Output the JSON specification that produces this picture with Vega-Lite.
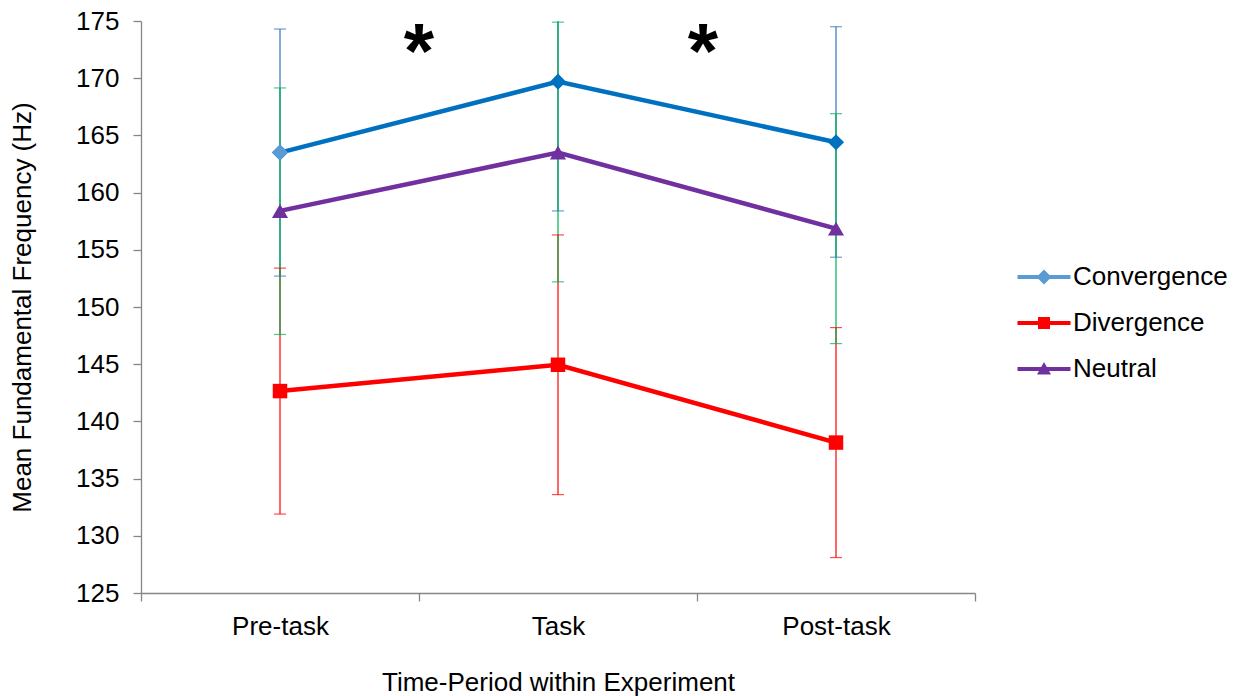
{
  "$schema": "https://vega.github.io/schema/vega-lite/v6.json",
  "autosize": "none",
  "width": 834,
  "height": 572,
  "padding": {"left": 141, "top": 21, "right": 263, "bottom": 103},
  "background": "white",
  "config": {
    "view": {"stroke": null},
    "font": "Liberation Sans",
    "axis": {
      "domainColor": "#868686",
      "tickColor": "#868686",
      "domainWidth": 1.3,
      "tickWidth": 1.3,
      "tickSize": 8,
      "grid": false,
      "labelFont": "Liberation Sans",
      "labelFontSize": 26,
      "labelColor": "#000000",
      "titleFont": "Liberation Sans",
      "titleFontSize": 26,
      "titleFontWeight": "normal",
      "titleColor": "#000000"
    },
    "legend": {
      "labelFont": "Liberation Sans",
      "labelFontSize": 26,
      "labelColor": "#000000"
    }
  },
  "data": {
    "values": [
      {"period": "Pre-task", "series": "Convergence", "mean": 163.5, "lo": 152.7, "hi": 174.3},
      {"period": "Task", "series": "Convergence", "mean": 169.7, "lo": 158.4, "hi": 181.0},
      {"period": "Post-task", "series": "Convergence", "mean": 164.4, "lo": 154.35, "hi": 174.5},
      {"period": "Pre-task", "series": "Divergence", "mean": 142.65, "lo": 131.9, "hi": 153.4},
      {"period": "Task", "series": "Divergence", "mean": 144.95, "lo": 133.6, "hi": 156.3},
      {"period": "Post-task", "series": "Divergence", "mean": 138.15, "lo": 128.1, "hi": 148.2},
      {"period": "Pre-task", "series": "Neutral", "mean": 158.4, "lo": 147.6, "hi": 169.15},
      {"period": "Task", "series": "Neutral", "mean": 163.5, "lo": 152.2, "hi": 174.9},
      {"period": "Post-task", "series": "Neutral", "mean": 156.85, "lo": 146.8, "hi": 166.9}
    ]
  },
  "layer": [
    {
      "mark": {"type": "point", "filled": true, "size": 400, "opacity": 0},
      "encoding": {
        "x": {"field": "period", "type": "nominal", "bandPosition": 0.5,
          "scale": {"type": "band", "domain": ["Pre-task", "Task", "Post-task"], "paddingInner": 0, "paddingOuter": 0},
          "axis": {"title": "Time-Period within Experiment", "labelAngle": 0, "tickBand": "extent", "labelPadding": 12, "titlePadding": 30}},
        "y": {"field": "mean", "type": "quantitative",
          "scale": {"domain": [125, 175], "nice": false, "zero": false},
          "axis": {"title": "Mean Fundamental Frequency (Hz)", "values": [125, 130, 135, 140, 145, 150, 155, 160, 165, 170, 175], "labelPadding": 14, "titlePadding": 40}},
        "color": {"field": "series", "type": "nominal",
          "scale": {"domain": ["Convergence", "Divergence", "Neutral"], "range": ["#5B9BD5", "#FF0000", "#7030A0"]},
          "legend": {"title": null, "orient": "none", "legendX": 890, "legendY": 243, "padding": 0,
            "labelOffset": 16, "rowPadding": 20, "symbolSize": 400, "symbolOpacity": 1, "symbolStrokeWidth": 0}},
        "shape": {"field": "series", "type": "nominal",
          "scale": {"domain": ["Convergence", "Divergence", "Neutral"],
            "range": [
              "M-2.65,-0.2H2.65V0.2H-2.65Z M0,-0.75L0.75,0L0,0.75L-0.75,0Z",
              "M-2.65,-0.2H2.65V0.2H-2.65Z M-0.6,-0.6H0.6V0.6H-0.6Z",
              "M-2.65,-0.2H2.65V0.2H-2.65Z M0,-0.7L0.7,0.55L-0.7,0.55Z"]},
          "legend": {"title": null, "orient": "none", "legendX": 890, "legendY": 243, "padding": 0,
            "labelOffset": 16, "rowPadding": 20, "symbolSize": 400, "symbolOpacity": 1, "symbolStrokeWidth": 0}}
      }
    },
    {
      "mark": {"type": "rule", "strokeWidth": 1.2, "clip": true},
      "encoding": {
        "x": {"field": "period", "type": "nominal", "bandPosition": 0.5},
        "y": {"field": "lo", "type": "quantitative"},
        "y2": {"field": "hi"},
        "stroke": {"field": "series", "type": "nominal",
          "scale": {"range": ["#2E75B6", "#FF0000", "#00B050"]},
          "legend": null}
      }
    },
    {
      "mark": {"type": "tick", "size": 12, "thickness": 1.2, "clip": true},
      "encoding": {
        "x": {"field": "period", "type": "nominal", "bandPosition": 0.5},
        "y": {"field": "lo", "type": "quantitative"},
        "fill": {"field": "series", "type": "nominal",
          "scale": {"range": ["#2E75B6", "#FF0000", "#00B050"]},
          "legend": null}
      }
    },
    {
      "mark": {"type": "tick", "size": 12, "thickness": 1.2, "clip": true},
      "encoding": {
        "x": {"field": "period", "type": "nominal", "bandPosition": 0.5},
        "y": {"field": "hi", "type": "quantitative"},
        "fill": {"field": "series", "type": "nominal",
          "scale": {"range": ["#2E75B6", "#FF0000", "#00B050"]},
          "legend": null}
      }
    },
    {
      "transform": [{"filter": "datum.series === 'Convergence'"}],
      "mark": {"type": "line", "strokeWidth": 4.5, "color": "#0070C0"},
      "encoding": {
        "x": {"field": "period", "type": "nominal", "bandPosition": 0.5, "sort": ["Pre-task", "Task", "Post-task"]},
        "y": {"field": "mean", "type": "quantitative"}
      }
    },
    {
      "transform": [{"filter": "datum.series === 'Divergence'"}],
      "mark": {"type": "line", "strokeWidth": 4.5, "color": "#FF0000"},
      "encoding": {
        "x": {"field": "period", "type": "nominal", "bandPosition": 0.5, "sort": ["Pre-task", "Task", "Post-task"]},
        "y": {"field": "mean", "type": "quantitative"}
      }
    },
    {
      "transform": [{"filter": "datum.series === 'Neutral'"}],
      "mark": {"type": "line", "strokeWidth": 4.5, "color": "#7030A0"},
      "encoding": {
        "x": {"field": "period", "type": "nominal", "bandPosition": 0.5, "sort": ["Pre-task", "Task", "Post-task"]},
        "y": {"field": "mean", "type": "quantitative"}
      }
    },
    {
      "transform": [{"filter": "datum.series === 'Convergence'"}],
      "mark": {"type": "point", "filled": true, "shape": "diamond", "size": 260, "opacity": 1, "color": "#0070C0"},
      "encoding": {
        "x": {"field": "period", "type": "nominal", "bandPosition": 0.5},
        "y": {"field": "mean", "type": "quantitative"}
      }
    },
    {
      "transform": [{"filter": "datum.series === 'Convergence' && datum.period === 'Pre-task'"}],
      "mark": {"type": "point", "filled": true, "shape": "diamond", "size": 260, "opacity": 1, "color": "#5B9BD5"},
      "encoding": {
        "x": {"field": "period", "type": "nominal", "bandPosition": 0.5},
        "y": {"field": "mean", "type": "quantitative"}
      }
    },
    {
      "transform": [{"filter": "datum.series === 'Divergence'"}],
      "mark": {"type": "point", "filled": true, "shape": "square", "size": 210, "opacity": 1, "color": "#FF0000"},
      "encoding": {
        "x": {"field": "period", "type": "nominal", "bandPosition": 0.5},
        "y": {"field": "mean", "type": "quantitative"}
      }
    },
    {
      "transform": [{"filter": "datum.series === 'Neutral'"}],
      "mark": {"type": "point", "filled": true, "shape": "triangle-up", "size": 260, "opacity": 1, "color": "#7030A0"},
      "encoding": {
        "x": {"field": "period", "type": "nominal", "bandPosition": 0.5},
        "y": {"field": "mean", "type": "quantitative"}
      }
    },
    {
      "data": {"values": [{"period": "Pre-task", "value": 170, "label": "*"}]},
      "mark": {"type": "text", "fontSize": 78, "fontWeight": "bold", "font": "Liberation Sans", "baseline": "alphabetic", "align": "center", "color": "#000000"},
      "encoding": {
        "x": {"field": "period", "type": "nominal", "bandPosition": 1},
        "y": {"field": "value", "type": "quantitative"},
        "text": {"field": "label"}
      }
    },
    {
      "data": {"values": [{"period": "Task", "value": 170, "label": "*"}]},
      "mark": {"type": "text", "fontSize": 78, "fontWeight": "bold", "font": "Liberation Sans", "baseline": "alphabetic", "align": "center", "color": "#000000", "dx": 6},
      "encoding": {
        "x": {"field": "period", "type": "nominal", "bandPosition": 1},
        "y": {"field": "value", "type": "quantitative"},
        "text": {"field": "label"}
      }
    }
  ]
}
